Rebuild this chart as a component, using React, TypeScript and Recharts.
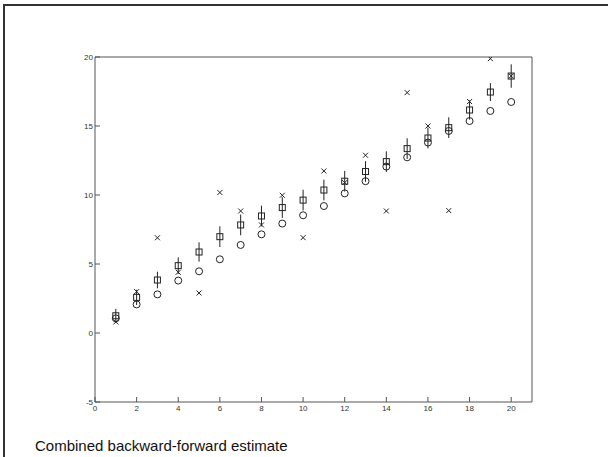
import { ScatterChart, Scatter, XAxis, YAxis, ErrorBar } from 'recharts';

const xs = [1, 2, 3, 4, 5, 6, 7, 8, 9, 10, 11, 12, 13, 14, 15, 16, 17, 18, 19, 20];
const combined = [1.25, 2.58, 3.84, 4.88, 5.87, 6.98, 7.83, 8.48, 9.09, 9.63, 10.36, 11.0, 11.7, 12.42, 13.36, 14.13, 14.88, 16.16, 17.46, 18.62];
const combinedErr = [0.5, 0.55, 0.6, 0.6, 0.7, 0.75, 0.75, 0.75, 0.75, 0.75, 0.75, 0.75, 0.75, 0.75, 0.75, 0.75, 0.75, 0.7, 0.65, 0.85];
const backward = [1.06, 2.07, 2.8, 3.8, 4.47, 5.34, 6.38, 7.15, 7.93, 8.53, 9.2, 10.12, 11.0, 12.06, 12.73, 13.8, 14.64, 15.36, 16.09, 16.74];
const forward = [0.8, 3.0, 6.9, 4.4, 2.9, 10.18, 8.84, 7.83, 9.98, 6.91, 11.74, 10.9, 12.88, 8.84, 17.42, 15.0, 8.87, 16.77, 19.88, 18.62];

const xTicks = [0, 2, 4, 6, 8, 10, 12, 14, 16, 18, 20];
const yTicks = [-5, 0, 5, 10, 15, 20];

const squareData = xs.map((x, i) => ({ x, y: combined[i], err: combinedErr[i] }));
const circleData = xs.map((x, i) => ({ x, y: backward[i] }));
const crossData = xs.map((x, i) => ({ x, y: forward[i] }));

const ink = '#222';
const axisInk = '#555';
const tickFont = { fontSize: 8, fill: '#333', fontFamily: 'Liberation Sans, Arial, sans-serif' };

const SquareMark = (props: any) => {
  const { cx, cy } = props;
  return <rect x={cx - 3} y={cy - 3} width={6} height={6} fill="none" stroke={ink} strokeWidth={1} />;
};

const CircleMark = (props: any) => {
  const { cx, cy } = props;
  return <circle cx={cx} cy={cy} r={3.5} fill="none" stroke={ink} strokeWidth={1} />;
};

const CrossMark = (props: any) => {
  const { cx, cy } = props;
  return (
    <g stroke={ink} strokeWidth={1}>
      <line x1={cx - 2.5} y1={cy - 2.5} x2={cx + 2.5} y2={cy + 2.5} />
      <line x1={cx - 2.5} y1={cy + 2.5} x2={cx + 2.5} y2={cy - 2.5} />
    </g>
  );
};

export default function App() {
  return (
    <div style={{ position: 'absolute', left: 0, top: 0, width: 608, height: 457, background: '#fff' }}>
      <div style={{ position: 'absolute', left: 3, top: 4, width: 605, height: 2, background: '#333' }} />
      <div style={{ position: 'absolute', left: 3, top: 4, width: 2, height: 453, background: '#333' }} />
      <ScatterChart
        width={608}
        height={457}
        margin={{ top: 55, right: 74, bottom: 35, left: 65 }}
        style={{ position: 'absolute', left: 0, top: 0 }}
      >
        <XAxis
          xAxisId="b"
          type="number"
          dataKey="x"
          domain={[0, 21]}
          ticks={xTicks}
          height={20}
          tickSize={-5}
          tickMargin={8}
          stroke={axisInk}
          tick={tickFont}
          allowDataOverflow
        />
        <XAxis
          xAxisId="t"
          orientation="top"
          type="number"
          dataKey="x"
          domain={[0, 21]}
          ticks={xTicks}
          height={2}
          tickSize={-5}
          tick={false}
          stroke={axisInk}
        />
        <YAxis
          yAxisId="l"
          type="number"
          dataKey="y"
          domain={[-5, 20]}
          ticks={yTicks}
          width={30}
          tickSize={-5}
          tickMargin={7}
          stroke={axisInk}
          tick={tickFont}
          allowDataOverflow
        />
        <YAxis
          yAxisId="r"
          orientation="right"
          type="number"
          dataKey="y"
          domain={[-5, 20]}
          ticks={yTicks}
          width={2}
          tickSize={-5}
          tick={false}
          stroke={axisInk}
        />
        <Scatter data={squareData} xAxisId="b" yAxisId="l" shape={SquareMark} isAnimationActive={false}>
          <ErrorBar dataKey="err" direction="y" width={0} stroke={ink} strokeWidth={1} />
        </Scatter>
        <Scatter data={circleData} xAxisId="b" yAxisId="l" shape={CircleMark} isAnimationActive={false} />
        <Scatter data={crossData} xAxisId="b" yAxisId="l" shape={CrossMark} isAnimationActive={false} />
        <Scatter data={[]} xAxisId="t" yAxisId="r" isAnimationActive={false} />
      </ScatterChart>
      <div
        style={{
          position: 'absolute',
          left: 35,
          top: 437,
          fontFamily: 'Liberation Sans, Arial, sans-serif',
          fontSize: 15,
          color: '#111',
          whiteSpace: 'nowrap',
        }}
      >
        Combined backward-forward estimate
      </div>
    </div>
  );
}
